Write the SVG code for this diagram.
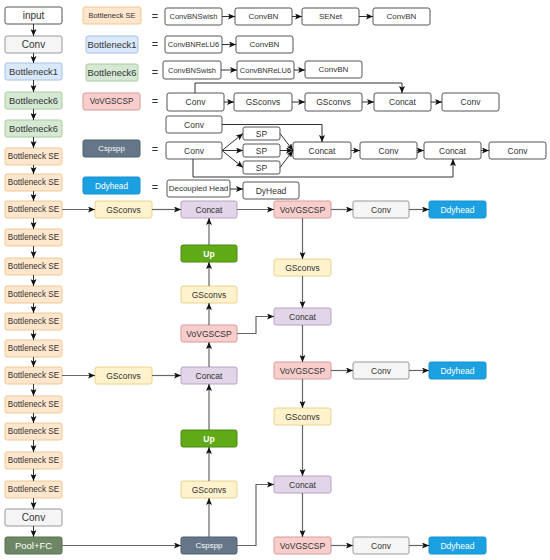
<svg xmlns="http://www.w3.org/2000/svg" width="550" height="560" viewBox="0 0 550 560">
<defs>
<marker id="ah" markerWidth="7" markerHeight="6" refX="7" refY="3" orient="auto" markerUnits="userSpaceOnUse">
<path d="M0,0 L7,3 L0,6 L1.6,3 z" fill="#111"/>
</marker>
<style>
text{font-family:"Liberation Sans",Arial,sans-serif;text-anchor:middle;dominant-baseline:central;fill:#333}
.w{fill:#fff;stroke:#555;stroke-width:1}
.g{fill:#f5f5f5;stroke:#999;stroke-width:1}
.b{fill:#dae8fc;stroke:#a9c1e4;stroke-width:1}
.gr{fill:#d5e8d4;stroke:#a9cc9a;stroke-width:1}
.se{fill:#ffe6cc;stroke:#f0c890;stroke-width:1}
.vov{fill:#f8cecc;stroke:#d99a98;stroke-width:1}
.cc{fill:#e1d5e7;stroke:#b9a2c6;stroke-width:1}
.gs{fill:#fff2cc;stroke:#ead28c;stroke-width:1}
.up{fill:#60a917;stroke:#4d8a12;stroke-width:1}
.pool{fill:#6d8764;stroke:#58704f;stroke-width:1}
.csp{fill:#647687;stroke:#4e5e6e;stroke-width:1}
.dd{fill:#1ba1e2;stroke:#1590cc;stroke-width:1}
.wt{fill:#fff}
.ln{fill:none;stroke:#333;stroke-width:1;marker-end:url(#ah)}
.nk{fill:none;stroke:#666;stroke-width:1.2;marker-end:url(#ah)}
.pl{fill:none;stroke:#333;stroke-width:1}
.eq{font-size:11px;fill:#333}
</style>
</defs>

<!-- backbone column -->
<g id="backbone">
<g id="b0"><rect class="w" x="5" y="7" width="57" height="17" rx="2"/><text x="33.5" y="15.5" font-size="10">input</text></g>
<g id="b1"><rect class="g" x="5" y="36" width="57" height="17" rx="2"/><text x="33.5" y="44.5" font-size="10" fill="#666">Conv</text></g>
<g id="b2"><rect class="b" x="5" y="63" width="57" height="17" rx="2"/><text x="33.5" y="71.5" font-size="9.4">Bottleneck1</text></g>
<g id="b3"><rect class="gr" x="5" y="92" width="57" height="17" rx="2"/><text x="33.5" y="100.5" font-size="9.4">Bottleneck6</text></g>
<g id="b4"><rect class="gr" x="5" y="120" width="57" height="17" rx="2"/><text x="33.5" y="128.5" font-size="9.4">Bottleneck6</text></g>
<g id="b5"><rect class="se" x="5" y="148" width="57" height="17" rx="2"/><text x="33.5" y="156.5" font-size="8.2">Bottleneck SE</text></g>
<g id="b6"><rect class="se" x="5" y="174" width="57" height="17" rx="2"/><text x="33.5" y="182.5" font-size="8.2">Bottleneck SE</text></g>
<g id="b7"><rect class="se" x="5" y="201" width="57" height="17" rx="2"/><text x="33.5" y="209.5" font-size="8.2">Bottleneck SE</text></g>
<g id="b8"><rect class="se" x="5" y="229" width="57" height="17" rx="2"/><text x="33.5" y="237.5" font-size="8.2">Bottleneck SE</text></g>
<g id="b9"><rect class="se" x="5" y="258" width="57" height="17" rx="2"/><text x="33.5" y="266.5" font-size="8.2">Bottleneck SE</text></g>
<g id="b10"><rect class="se" x="5" y="286" width="57" height="17" rx="2"/><text x="33.5" y="294.5" font-size="8.2">Bottleneck SE</text></g>
<g id="b11"><rect class="se" x="5" y="313" width="57" height="17" rx="2"/><text x="33.5" y="321.5" font-size="8.2">Bottleneck SE</text></g>
<g id="b12"><rect class="se" x="5" y="340" width="57" height="17" rx="2"/><text x="33.5" y="348.5" font-size="8.2">Bottleneck SE</text></g>
<g id="b13"><rect class="se" x="5" y="367" width="57" height="17" rx="2"/><text x="33.5" y="375.5" font-size="8.2">Bottleneck SE</text></g>
<g id="b14"><rect class="se" x="5" y="396" width="57" height="17" rx="2"/><text x="33.5" y="404.5" font-size="8.2">Bottleneck SE</text></g>
<g id="b15"><rect class="se" x="5" y="423" width="57" height="17" rx="2"/><text x="33.5" y="431.5" font-size="8.2">Bottleneck SE</text></g>
<g id="b16"><rect class="se" x="5" y="452" width="57" height="17" rx="2"/><text x="33.5" y="460.5" font-size="8.2">Bottleneck SE</text></g>
<g id="b17"><rect class="se" x="5" y="481" width="57" height="17" rx="2"/><text x="33.5" y="489.5" font-size="8.2">Bottleneck SE</text></g>
<g id="b18"><rect class="g" x="5" y="509" width="57" height="17" rx="2"/><text x="33.5" y="517.5" font-size="10" fill="#666">Conv</text></g>
<g id="b19"><rect class="pool" x="5" y="537" width="57" height="17" rx="2"/><text x="33.5" y="545.5" font-size="9.5" class="wt">Pool+FC</text></g>
</g>

<!-- legend -->
<g id="legend">
<g id="lg-se"><rect class="se" x="83" y="7" width="58" height="17" rx="2"/><text x="112" y="15.5" font-size="7.5">Bottleneck SE</text></g>
<g id="lg-b1"><rect class="b" x="86" y="36" width="52" height="17" rx="2"/><text x="112" y="44.5" font-size="9.4">Bottleneck1</text></g>
<g id="lg-b6"><rect class="gr" x="86" y="64" width="52" height="17" rx="2"/><text x="112" y="72.5" font-size="9.4">Bottleneck6</text></g>
<g id="lg-vov"><rect class="vov" x="83" y="93" width="57" height="17" rx="2"/><text x="111.5" y="101.5" font-size="8.2">VoVGSCSP</text></g>
<g id="lg-csp"><rect class="csp" x="83" y="140" width="57" height="17" rx="2"/><text x="111.5" y="148.5" font-size="7.8" class="wt">Cspspp</text></g>
<g id="lg-dd"><rect class="dd" x="83" y="177" width="57" height="17" rx="2"/><text x="111.5" y="185.5" font-size="8.3" class="wt">Ddyhead</text></g>
<text class="eq" x="155" y="16">=</text>
<text class="eq" x="155" y="44">=</text>
<text class="eq" x="155" y="72">=</text>
<text class="eq" x="155" y="101">=</text>
<text class="eq" x="155" y="149">=</text>
<text class="eq" x="155" y="187">=</text>

<g id="r1a"><rect class="w" x="165" y="8" width="57" height="17" rx="2"/><text x="193.5" y="16.5" font-size="7.5">ConvBNSwish</text></g>
<g id="r1b"><rect class="w" x="235" y="8" width="57" height="17" rx="2"/><text x="263.5" y="16.5" font-size="8">ConvBN</text></g>
<g id="r1c"><rect class="w" x="302" y="8" width="57" height="17" rx="2"/><text x="330.5" y="16.5" font-size="8">SENet</text></g>
<g id="r1d"><rect class="w" x="373" y="8" width="57" height="17" rx="2"/><text x="401.5" y="16.5" font-size="8">ConvBN</text></g>

<g id="r2a"><rect class="w" x="165" y="36" width="57" height="17" rx="2"/><text x="193.5" y="44.5" font-size="7.5">ConvBNReLU6</text></g>
<g id="r2b"><rect class="w" x="236" y="36" width="57" height="17" rx="2"/><text x="264.5" y="44.5" font-size="8">ConvBN</text></g>

<g id="r3a"><rect class="w" x="163" y="61" width="58" height="18" rx="2"/><text x="192" y="70" font-size="7.5">ConvBNSwish</text></g>
<g id="r3b"><rect class="w" x="237" y="61" width="57" height="18" rx="2"/><text x="265.5" y="70" font-size="7.5">ConvBNReLU6</text></g>
<g id="r3c"><rect class="w" x="305" y="61" width="57" height="17" rx="2"/><text x="333.5" y="69.5" font-size="8">ConvBN</text></g>

<g id="r4a"><rect class="w" x="167" y="93" width="57" height="18" rx="2"/><text x="195.5" y="102" font-size="8.5">Conv</text></g>
<g id="r4b"><rect class="w" x="234" y="93" width="58" height="18" rx="2"/><text x="263" y="102" font-size="8.5">GSconvs</text></g>
<g id="r4c"><rect class="w" x="305" y="93" width="57" height="18" rx="2"/><text x="333.5" y="102" font-size="8.5">GSconvs</text></g>
<g id="r4d"><rect class="w" x="374" y="93" width="57" height="18" rx="2"/><text x="402.5" y="102" font-size="8.5">Concat</text></g>
<g id="r4e"><rect class="w" x="442" y="93" width="57" height="18" rx="2"/><text x="470.5" y="102" font-size="8.5">Conv</text></g>

<g id="r5top"><rect class="w" x="166" y="116" width="56" height="17" rx="2"/><text x="194" y="124.5" font-size="8.5">Conv</text></g>
<g id="r5a"><rect class="w" x="166" y="142" width="56" height="17" rx="2"/><text x="194" y="150.5" font-size="8.5">Conv</text></g>
<g id="sp1"><rect class="w" x="243" y="127" width="37" height="13" rx="2"/><text x="261.5" y="133.5" font-size="8.5">SP</text></g>
<g id="sp2"><rect class="w" x="243" y="144" width="37" height="13" rx="2"/><text x="261.5" y="150.5" font-size="8.5">SP</text></g>
<g id="sp3"><rect class="w" x="243" y="161" width="37" height="13" rx="2"/><text x="261.5" y="167.5" font-size="8.5">SP</text></g>
<g id="r5b"><rect class="w" x="293" y="142" width="58" height="17" rx="2"/><text x="322" y="150.5" font-size="8.5">Concat</text></g>
<g id="r5c"><rect class="w" x="360" y="142" width="57" height="17" rx="2"/><text x="388.5" y="150.5" font-size="8.5">Conv</text></g>
<g id="r5d"><rect class="w" x="424" y="142" width="57" height="17" rx="2"/><text x="452.5" y="150.5" font-size="8.5">Concat</text></g>
<g id="r5e"><rect class="w" x="489" y="142" width="57" height="17" rx="2"/><text x="517.5" y="150.5" font-size="8.5">Conv</text></g>

<g id="r6a"><rect class="w" x="167" y="180" width="63" height="17" rx="2"/><text x="198.5" y="188.5" font-size="8">Decoupled Head</text></g>
<g id="r6b"><rect class="w" x="243" y="182" width="56" height="17" rx="2"/><text x="271" y="190.5" font-size="8.5">DyHead</text></g>
</g>

<!-- neck / head nodes -->
<g id="n-gs1"><rect class="gs" x="95" y="201" width="57" height="17" rx="2"/><text x="123.5" y="209.5" font-size="8.5">GSconvs</text></g>
<g id="n-gs2"><rect class="gs" x="95" y="367" width="57" height="17" rx="2"/><text x="123.5" y="375.5" font-size="8.5">GSconvs</text></g>

<g id="n-cc1"><rect class="cc" x="181" y="201" width="56" height="17" rx="2"/><text x="209" y="209.5" font-size="8.5">Concat</text></g>
<g id="n-up1"><rect class="up" x="181" y="245" width="56" height="17" rx="2"/><text x="209" y="253.5" font-size="8.5" font-weight="bold" class="wt">Up</text></g>
<g id="n-gs3"><rect class="gs" x="181" y="286" width="56" height="17" rx="2"/><text x="209" y="294.5" font-size="8.5">GSconvs</text></g>
<g id="n-vov1"><rect class="vov" x="181" y="325" width="56" height="17" rx="2"/><text x="209" y="333.5" font-size="8.5">VoVGSCSP</text></g>
<g id="n-cc2"><rect class="cc" x="181" y="367" width="56" height="17" rx="2"/><text x="209" y="375.5" font-size="8.5">Concat</text></g>
<g id="n-up2"><rect class="up" x="181" y="430" width="56" height="17" rx="2"/><text x="209" y="438.5" font-size="8.5" font-weight="bold" class="wt">Up</text></g>
<g id="n-gs4"><rect class="gs" x="181" y="481" width="56" height="17" rx="2"/><text x="209" y="489.5" font-size="8.5">GSconvs</text></g>
<g id="n-csp"><rect class="csp" x="181" y="537" width="56" height="17" rx="2"/><text x="209" y="545.5" font-size="8" class="wt">Cspspp</text></g>

<g id="n-vov2"><rect class="vov" x="274" y="201" width="57" height="17" rx="2"/><text x="302.5" y="209.5" font-size="8.5">VoVGSCSP</text></g>
<g id="n-gs5"><rect class="gs" x="274" y="259" width="57" height="17" rx="2"/><text x="302.5" y="267.5" font-size="8.5">GSconvs</text></g>
<g id="n-cc3"><rect class="cc" x="274" y="308" width="57" height="17" rx="2"/><text x="302.5" y="316.5" font-size="8.5">Concat</text></g>
<g id="n-vov3"><rect class="vov" x="274" y="362" width="57" height="17" rx="2"/><text x="302.5" y="370.5" font-size="8.5">VoVGSCSP</text></g>
<g id="n-gs6"><rect class="gs" x="274" y="408" width="57" height="17" rx="2"/><text x="302.5" y="416.5" font-size="8.5">GSconvs</text></g>
<g id="n-cc4"><rect class="cc" x="274" y="476" width="57" height="17" rx="2"/><text x="302.5" y="484.5" font-size="8.5">Concat</text></g>
<g id="n-vov4"><rect class="vov" x="274" y="537" width="57" height="17" rx="2"/><text x="302.5" y="545.5" font-size="8.5">VoVGSCSP</text></g>

<g id="n-conv1"><rect class="g" x="353" y="201" width="56" height="17" rx="2"/><text x="381" y="209.5" font-size="8.5" fill="#555">Conv</text></g>
<g id="n-dd1"><rect class="dd" x="429" y="201" width="57" height="17" rx="2"/><text x="457.5" y="209.5" font-size="8.5" class="wt">Ddyhead</text></g>
<g id="n-conv2"><rect class="g" x="353" y="362" width="56" height="17" rx="2"/><text x="381" y="370.5" font-size="8.5" fill="#555">Conv</text></g>
<g id="n-dd2"><rect class="dd" x="429" y="362" width="57" height="17" rx="2"/><text x="457.5" y="370.5" font-size="8.5" class="wt">Ddyhead</text></g>
<g id="n-conv3"><rect class="g" x="353" y="537" width="56" height="17" rx="2"/><text x="381" y="545.5" font-size="8.5" fill="#555">Conv</text></g>
<g id="n-dd3"><rect class="dd" x="429" y="537" width="57" height="17" rx="2"/><text x="457.5" y="545.5" font-size="8.5" class="wt">Ddyhead</text></g>

<!-- connectors -->
<g id="connectors">
<!-- backbone chain -->
<path class="ln" d="M33.5,24 V36"/>
<path class="ln" d="M33.5,53 V63"/>
<path class="ln" d="M33.5,80 V92"/>
<path class="ln" d="M33.5,109 V120"/>
<path class="ln" d="M33.5,137 V148"/>
<path class="ln" d="M33.5,165 V174"/>
<path class="ln" d="M33.5,191 V201"/>
<path class="ln" d="M33.5,218 V229"/>
<path class="ln" d="M33.5,246 V258"/>
<path class="ln" d="M33.5,275 V286"/>
<path class="ln" d="M33.5,303 V313"/>
<path class="ln" d="M33.5,330 V340"/>
<path class="ln" d="M33.5,357 V367"/>
<path class="ln" d="M33.5,384 V396"/>
<path class="ln" d="M33.5,413 V423"/>
<path class="ln" d="M33.5,440 V452"/>
<path class="ln" d="M33.5,469 V481"/>
<path class="ln" d="M33.5,498 V509"/>
<path class="ln" d="M33.5,526 V537"/>

<!-- legend rows -->
<path class="ln" d="M222,16.5 H235"/>
<path class="ln" d="M292,16.5 H302"/>
<path class="ln" d="M359,16.5 H373"/>
<path class="ln" d="M222,44.5 H236"/>
<path class="ln" d="M221,70 H237"/>
<path class="ln" d="M294,70 H305"/>
<path class="ln" d="M224,102 H234"/>
<path class="ln" d="M292,102 H305"/>
<path class="ln" d="M362,102 H374"/>
<path class="ln" d="M431,102 H442"/>
<path class="ln" d="M195,93 V83 H402 V93"/>
<path class="ln" d="M222,150.5 L243,133.5"/>
<path class="ln" d="M222,150.5 H243"/>
<path class="ln" d="M222,150.5 L243,167.5"/>
<path class="ln" d="M280,133.5 L293,150.5"/>
<path class="ln" d="M280,150.5 H293"/>
<path class="ln" d="M280,167.5 L293,150.5"/>
<path class="ln" d="M222,124.5 H322 V142"/>
<path class="ln" d="M351,150.5 H360"/>
<path class="ln" d="M417,150.5 H424"/>
<path class="ln" d="M481,150.5 H489"/>
<path class="ln" d="M193,159 V177 H453 V159"/>
<path class="ln" d="M230,189 H243"/>

<!-- neck -->
<path class="nk" d="M62,209.5 H95"/>
<path class="nk" d="M152,209.5 H181"/>
<path class="nk" d="M62,375.5 H95"/>
<path class="nk" d="M152,375.5 H181"/>
<path class="nk" d="M62,545.5 H181"/>
<path class="nk" d="M209,245 V218"/>
<path class="nk" d="M209,286 V262"/>
<path class="nk" d="M209,325 V303"/>
<path class="nk" d="M209,367 V342"/>
<path class="nk" d="M209,430 V384"/>
<path class="nk" d="M209,481 V447"/>
<path class="nk" d="M209,537 V498"/>
<path class="nk" d="M237,209.5 H274"/>
<path class="nk" d="M237,333.5 H256 V316.5 H274"/>
<path class="nk" d="M237,545.5 H256 V484.5 H274"/>
<path class="nk" d="M302.5,218 V259"/>
<path class="nk" d="M302.5,276 V308"/>
<path class="nk" d="M302.5,325 V362"/>
<path class="nk" d="M302.5,379 V408"/>
<path class="nk" d="M302.5,425 V476"/>
<path class="nk" d="M302.5,493 V537"/>
<path class="nk" d="M331,209.5 H353"/>
<path class="nk" d="M409,209.5 H429"/>
<path class="nk" d="M331,370.5 H353"/>
<path class="nk" d="M409,370.5 H429"/>
<path class="nk" d="M331,545.5 H353"/>
<path class="nk" d="M409,545.5 H429"/>
</g>
</svg>
